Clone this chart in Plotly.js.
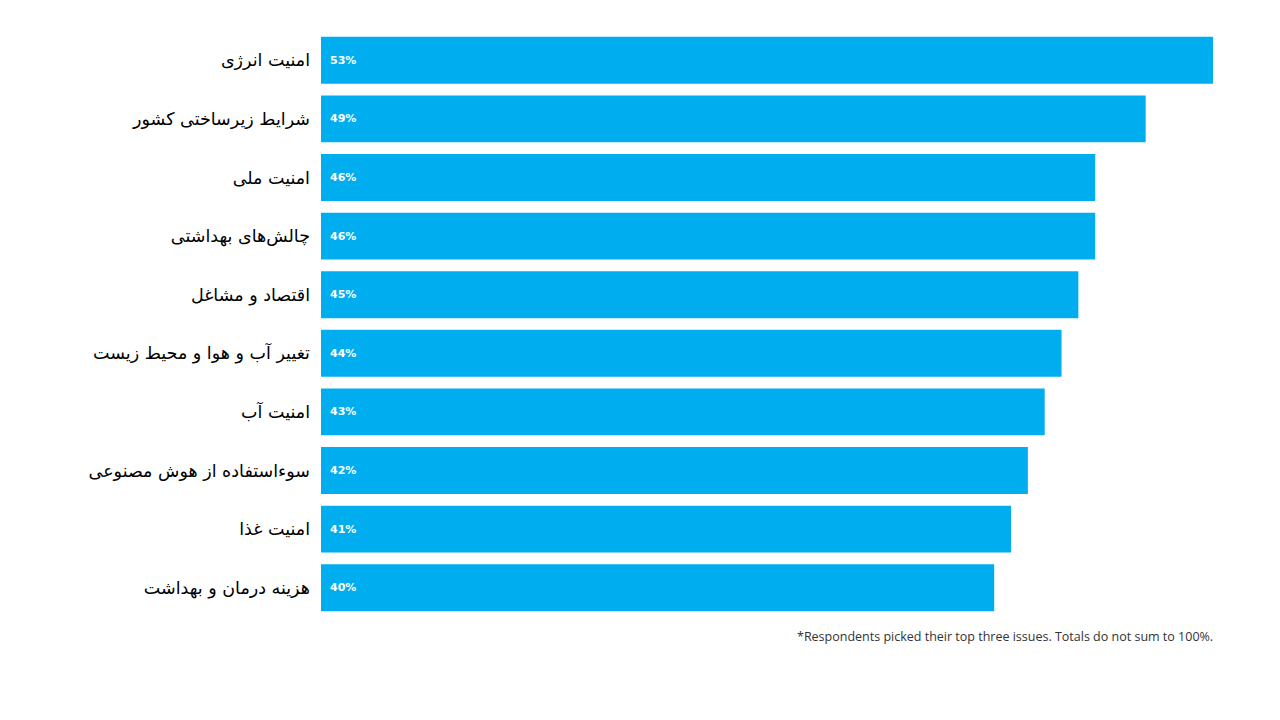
<!DOCTYPE html>
<html>
<head>
<meta charset="utf-8">
<script src="https://cdn.plot.ly/plotly-3.0.1.min.js"></script>
<style>html,body{margin:0;padding:0;background:#fff;}#chart{width:1280px;height:720px;}</style>
</head>
<body>
<div id="chart"></div>
<script>
var categories = [
  "امنیت انرژی",
  "شرایط زیرساختی کشور",
  "امنیت ملی",
  "چالش‌های بهداشتی",
  "اقتصاد و مشاغل",
  "تغییر آب و هوا و محیط زیست",
  "امنیت آب",
  "سوءاستفاده از هوش مصنوعی",
  "امنیت غذا",
  "هزینه درمان و بهداشت"
];
var values = [53, 49, 46, 46, 45, 44, 43, 42, 41, 40];
var valueLabels = values.map(function(v){ return v + "%"; });
var footnote = "*Respondents picked their top three issues. Totals do not sum to 100%.";

var trace = {
  type: "bar",
  orientation: "h",
  y: categories,
  x: values,
  marker: {color: "#00AEEF"},
  hoverinfo: "skip"
};

var annotations = categories.map(function(c, i){
  return {
    x: 0, y: c, xref: "x", yref: "y",
    text: "<b>" + valueLabels[i] + "</b>",
    showarrow: false, xanchor: "left", xshift: 7,
    font: {family: "DejaVu Sans, Verdana, sans-serif", size: 11, color: "#ffffff"}
  };
});
annotations.push({
  x: 1, y: 0, xref: "paper", yref: "paper",
  text: footnote, showarrow: false, xanchor: "right", yanchor: "top",
  yshift: -9, xshift: 2,
  font: {family: "Open Sans, Arial, sans-serif", size: 12.5, color: "#333333"}
});

var layout = {
  width: 1280, height: 720,
  margin: {l: 321, r: 67, t: 31, b: 103},
  paper_bgcolor: "#ffffff", plot_bgcolor: "#ffffff",
  bargap: 0.2,
  showlegend: false,
  xaxis: {range: [0, 53], showgrid: false, zeroline: false, showticklabels: false, showline: false, ticks: "", fixedrange: true},
  yaxis: {autorange: "reversed", showgrid: false, zeroline: false, showline: false, ticks: "", ticklabelstandoff: 10,
          tickfont: {family: "DejaVu Sans, sans-serif", size: 17.5, color: "#000000"}},
  annotations: annotations
};

Plotly.newPlot("chart", [trace], layout, {displayModeBar: false, staticPlot: true});
</script>
</body>
</html>
